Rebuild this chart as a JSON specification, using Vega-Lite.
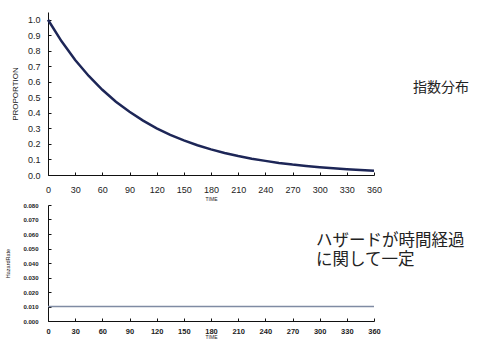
{
  "$schema": "https://vega.github.io/schema/vega-lite/v6.json",
  "background": "white",
  "padding": {"left": 5, "top": 12, "right": 5, "bottom": 0},
  "spacing": 1,
  "config": {
    "view": {"stroke": null},
    "font": "Liberation Sans",
    "axis": {"grid": false, "domainColor": "#111", "tickColor": "#111", "labelColor": "#222", "titleColor": "#222", "titleFontWeight": "normal", "domainWidth": 1, "tickWidth": 1, "labelOverlap": false}
  },
  "datasets": {
    "survival": [
      {"time": 0, "proportion": 1.0},
      {"time": 15, "proportion": 0.861},
      {"time": 30, "proportion": 0.741},
      {"time": 45, "proportion": 0.638},
      {"time": 60, "proportion": 0.549},
      {"time": 75, "proportion": 0.472},
      {"time": 90, "proportion": 0.407},
      {"time": 105, "proportion": 0.35},
      {"time": 120, "proportion": 0.301},
      {"time": 135, "proportion": 0.259},
      {"time": 150, "proportion": 0.223},
      {"time": 165, "proportion": 0.192},
      {"time": 180, "proportion": 0.165},
      {"time": 195, "proportion": 0.142},
      {"time": 210, "proportion": 0.122},
      {"time": 225, "proportion": 0.105},
      {"time": 240, "proportion": 0.091},
      {"time": 255, "proportion": 0.078},
      {"time": 270, "proportion": 0.067},
      {"time": 285, "proportion": 0.058},
      {"time": 300, "proportion": 0.05},
      {"time": 315, "proportion": 0.043},
      {"time": 330, "proportion": 0.037},
      {"time": 345, "proportion": 0.032},
      {"time": 360, "proportion": 0.027}
    ],
    "hazard": [
      {"time": 0, "rate": 0.01},
      {"time": 90, "rate": 0.01},
      {"time": 180, "rate": 0.01},
      {"time": 270, "rate": 0.01},
      {"time": 360, "rate": 0.01}
    ],
    "noteTop": [
      {"time": 403, "proportion": 0.56, "label": "指数分布"}
    ],
    "noteBottom": [
      {"time": 296, "rate": 0.0553, "label": "ハザードが時間経過\nに関して一定"}
    ]
  },
  "vconcat": [
    {
      "width": 326,
      "height": 163,
      "encoding": {
        "x": {"field": "time", "type": "quantitative", "scale": {"domain": [0, 360], "nice": false},
          "axis": {"values": [0, 30, 60, 90, 120, 150, 180, 210, 240, 270, 300, 330, 360], "labelOverlap": false, "title": "TIME", "titleFontSize": 5, "titlePadding": 2, "labelFontSize": 9, "tickSize": -3, "labelPadding": 13, "labelFlush": false}},
        "y": {"field": "proportion", "type": "quantitative", "scale": {"domain": [0, 1.05], "nice": false},
          "axis": {"values": [0, 0.1, 0.2, 0.3, 0.4, 0.5, 0.6, 0.7, 0.8, 0.9, 1.0], "labelOverlap": false, "format": ".1f", "title": "PROPORTION", "titleFontSize": 8, "titlePadding": 8, "labelFontSize": 9, "tickSize": -3, "labelPadding": 11}}
      },
      "layer": [
        {
          "data": {"name": "survival"},
          "mark": {"type": "line", "color": "#1d2657", "strokeWidth": 2.5}
        },
        {
          "data": {"name": "noteTop"},
          "mark": {"type": "text", "align": "left", "baseline": "middle", "fontSize": 14, "font": "Noto Sans CJK JP", "color": "#222", "clip": false},
          "encoding": {"text": {"field": "label"}}
        }
      ]
    },
    {
      "width": 326,
      "height": 116,
      "encoding": {
        "x": {"field": "time", "type": "quantitative", "scale": {"domain": [0, 360], "nice": false},
          "axis": {"values": [0, 30, 60, 90, 120, 150, 180, 210, 240, 270, 300, 330, 360], "labelOverlap": false, "title": "TIME", "titleFontSize": 5, "titlePadding": 0, "labelFontSize": 7.5, "labelFontWeight": "bold", "tickSize": -3, "labelPadding": 9, "labelFlush": false}},
        "y": {"field": "rate", "type": "quantitative", "scale": {"domain": [0, 0.08], "nice": false},
          "axis": {"values": [0, 0.01, 0.02, 0.03, 0.04, 0.05, 0.06, 0.07, 0.08], "labelOverlap": false, "format": ".3f", "title": "HazardRate", "titleFontSize": 5.5, "titlePadding": 12, "labelFontSize": 6, "labelFontWeight": "bold", "tickSize": -3, "labelPadding": 13}}
      },
      "layer": [
        {
          "data": {"name": "hazard"},
          "mark": {"type": "line", "color": "#7f8ba3", "strokeWidth": 1.5}
        },
        {
          "data": {"name": "noteBottom"},
          "mark": {"type": "text", "align": "left", "baseline": "middle", "fontSize": 16.5, "lineBreak": "\n", "lineHeight": 19, "font": "Noto Sans CJK JP", "color": "#222", "clip": false},
          "encoding": {"text": {"field": "label"}}
        }
      ]
    }
  ]
}
